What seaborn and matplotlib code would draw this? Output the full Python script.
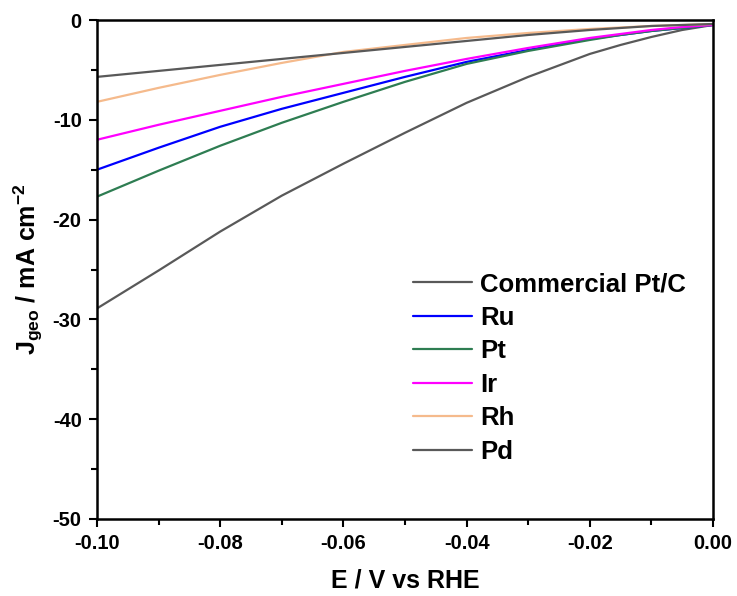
import matplotlib
matplotlib.use("Agg")
import matplotlib.pyplot as plt
from matplotlib.ticker import MultipleLocator
import pandas as pd
import seaborn as sns

# potential grid (V vs RHE)
E = [-0.10, -0.09, -0.08, -0.07, -0.06, -0.05, -0.04, -0.03, -0.02, -0.015, -0.01, -0.005, 0.00]

# current densities (mA cm-2)
j_ptc = [-28.9, -25.1, -21.2, -17.6, -14.4, -11.3, -8.3, -5.7, -3.4, -2.5, -1.7, -1.0, -0.5]
j_ru = [-15.0, -12.8, -10.7, -8.9, -7.3, -5.7, -4.2, -3.0, -1.9, -1.5, -1.1, -0.8, -0.5]
j_pt = [-17.7, -15.1, -12.6, -10.3, -8.2, -6.2, -4.4, -3.1, -2.0, -1.5, -1.1, -0.8, -0.5]
j_ir = [-12.0, -10.5, -9.1, -7.7, -6.4, -5.1, -3.9, -2.8, -1.8, -1.4, -1.0, -0.7, -0.5]
j_rh = [-8.2, -6.8, -5.5, -4.3, -3.2, -2.5, -1.8, -1.3, -0.9, -0.75, -0.6, -0.5, -0.4]
j_pd = [-5.7, -5.1, -4.5, -3.9, -3.3, -2.7, -2.1, -1.5, -1.0, -0.8, -0.6, -0.5, -0.4]

labels = ["Commercial Pt/C", "Ru", "Pt", "Ir", "Rh", "Pd"]
series = [j_ptc, j_ru, j_pt, j_ir, j_rh, j_pd]
colors = {"Commercial Pt/C": "#595959", "Ru": "#0000ff", "Pt": "#2e7d52",
          "Ir": "#ff00ff", "Rh": "#f5ba8c", "Pd": "#595959"}

xticks = [-0.10, -0.08, -0.06, -0.04, -0.02, 0.00]
xticklabels = ["-0.10", "-0.08", "-0.06", "-0.04", "-0.02", "0.00"]

df = pd.concat([pd.DataFrame({"E": E, "j": s, "sample": lab})
                for lab, s in zip(labels, series)], ignore_index=True)

sns.set_style("ticks")
plt.rcParams["font.family"] = ["Liberation Sans", "DejaVu Sans"]
plt.rcParams["font.weight"] = "bold"
plt.rcParams["axes.unicode_minus"] = False
plt.rcParams["mathtext.fontset"] = "custom"
plt.rcParams["mathtext.rm"] = "Liberation Sans:bold"
plt.rcParams["mathtext.it"] = "Liberation Sans:bold"
plt.rcParams["mathtext.bf"] = "Liberation Sans:bold"
for key in ["text.color", "axes.labelcolor", "xtick.color", "ytick.color"]:
    plt.rcParams[key] = "black"

fig = plt.figure(figsize=(7.37, 5.96), dpi=100)
ax = fig.add_axes([97/737, 1-519/596, 616/737, 499/596])

sns.lineplot(data=df, x="E", y="j", hue="sample", palette=colors,
             hue_order=labels, linewidth=1.6, ax=ax, legend=False)

ax.set_xlim(-0.10, 0.0)
ax.set_ylim(-50, 0)
ax.set_xticks(xticks)
ax.set_xticklabels(xticklabels)
ax.xaxis.set_minor_locator(MultipleLocator(0.01))
ax.yaxis.set_major_locator(MultipleLocator(10))
ax.yaxis.set_minor_locator(MultipleLocator(5))
ax.tick_params(which="major", direction="out", length=6, width=1.5,
               labelsize=14.5, pad=5)
ax.tick_params(which="minor", direction="out", length=4, width=1.5)
for sp in ax.spines.values():
    sp.set_linewidth(1.8)
    sp.set_color("black")

ax.set_xlabel("E / V vs RHE", fontsize=18, fontweight="bold")
ax.set_ylabel(r"$\mathrm{J_{geo}}$ / mA cm$^{\mathrm{-2}}$", fontsize=18,
              fontweight="bold")
ax.xaxis.set_label_coords(0.5, -0.100)
ax.yaxis.set_label_coords(-0.084, 0.5)

handles = [plt.Line2D([], [], color=colors[l], linewidth=1.6) for l in labels]
ax.legend(handles, labels, loc="upper left",
          bbox_to_anchor=(413/737, 1-272/596), bbox_transform=fig.transFigure,
          frameon=False, fontsize=18.5, borderpad=0, borderaxespad=0,
          handlelength=2.3, handletextpad=0.32, labelspacing=0.37)

fig.savefig("out.png", dpi=100)
